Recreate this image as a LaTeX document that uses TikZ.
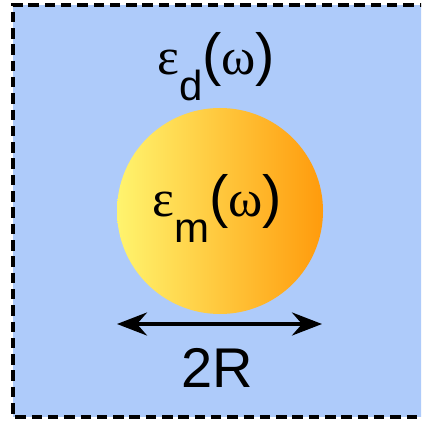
\documentclass[tikz,border=0pt]{standalone}
\usepackage{fontspec}
\setmainfont{Liberation Sans}
\newfontfamily\greekfont{Liberation Serif}
\usepackage{tikz}
\usetikzlibrary{arrows.meta, positioning}
\usepackage{xcolor}
\definecolor{mediumblue}{HTML}{AECBFA}
\definecolor{partyellow}{HTML}{FFF46E}
\definecolor{partorange}{HTML}{FF9B0C}
\newcommand{\bigfont}{\fontsize{58}{64}\selectfont}
\newcommand{\subfont}{\fontsize{42}{46}\selectfont}
\newcommand{\grk}[1]{{\greekfont\fontsize{52}{56}\selectfont #1}}
\newcommand{\epsof}[1]{\grk{ε}\raisebox{-26pt}{\subfont #1}(\grk{ω})}

\begin{document}
\begin{tikzpicture}[x=1pt, y=-1pt,
    label text/.style={inner sep=0pt, font=\bigfont}]
        \useasboundingbox (0,0) rectangle (421,422);
        \clip (0,0) rectangle (421,422);
        % Umgebung
        \fill[mediumblue] (13,5) rectangle (430,417);
        \draw[black, line width=3.6pt, dash pattern=on 10.5pt off 5.8pt] (430,5) -- (13,5) -- (13,417) -- (430,417);
        % Partikel
        \shade[left color=partyellow, right color=partorange] (220,211) circle (103pt);
        % Beschriftungen
        \node[label text, anchor=base west] (epsd) at (157,75) {\epsof{d}};
        \node[label text, anchor=base west] (epsm) at (152,216) {\epsof{m}};
        % Durchmesser
        \coordinate (dleft) at (117,324);
        \coordinate (dright) at (322,324);
        \draw[line width=3.8pt, {Stealth[length=30pt, width=23pt, inset=10pt]}-{Stealth[length=30pt, width=23pt, inset=10pt]}] (dleft) -- (dright);
        \node[label text, font=\fontsize{56}{60}\selectfont] (diam) at (217,368) {2R};
      \end{tikzpicture}
\end{document}
